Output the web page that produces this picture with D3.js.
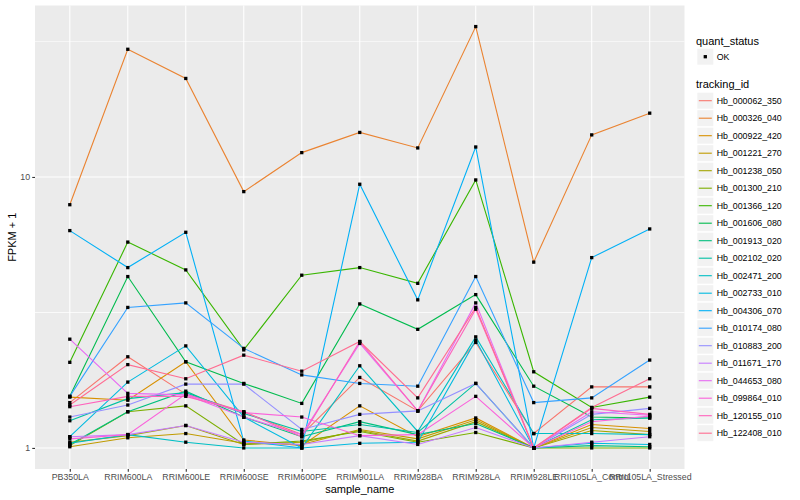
<!DOCTYPE html>
<html>
<head>
<meta charset="utf-8">
<script src="https://cdn.jsdelivr.net/npm/d3@7"></script>
<style>
    body { margin: 0; background: #ffffff; }
    text { font-family: "Liberation Sans", Arial, Helvetica, sans-serif; }
</style>
</head>
<body>
<script>
var sampleNames = ["PB350LA", "RRIM600LA", "RRIM600LE", "RRIM600SE", "RRIM600PE", "RRIM901LA",
                   "RRIM928BA", "RRIM928LA", "RRIM928LE", "RRII105LA_Control", "RRII105LA_Stressed"];

var trackingIds = ["Hb_000062_350", "Hb_000326_040", "Hb_000922_420", "Hb_001221_270", "Hb_001238_050",
                   "Hb_001300_210", "Hb_001366_120", "Hb_001606_080", "Hb_001913_020", "Hb_002102_020",
                   "Hb_002471_200", "Hb_002733_010", "Hb_004306_070", "Hb_010174_080", "Hb_010883_200",
                   "Hb_011671_170", "Hb_044653_080", "Hb_099864_010", "Hb_120155_010", "Hb_122408_010"];

var quantStatus = ["OK"];

var yTickValues = [1, 10];
var yTickLabels = ["1", "10"];

// FPKM + 1, one row per tracking_id, one column per sample
var fpkmPlusOne = [
    [1.47, 2.17, 1.58, 1.36, 1.12, 1.82, 1.37, 2.45, 1.13, 1.68, 1.68],
    [7.90, 29.6, 23.1, 8.83, 12.3, 14.6, 12.8, 35.9, 4.85, 14.3, 17.2],
    [1.54, 1.50, 2.08, 1.07, 1.02, 1.43, 1.10, 1.29, 1.00, 1.22, 1.18],
    [1.01, 1.09, 1.13, 1.04, 1.03, 1.17, 1.08, 1.27, 1.00, 1.19, 1.15],
    [1.05, 1.11, 1.21, 1.03, 1.05, 1.16, 1.06, 1.25, 1.00, 1.16, 1.12],
    [1.02, 1.36, 1.43, 1.03, 1.06, 1.15, 1.05, 1.14, 1.00, 1.00, 1.00],
    [2.07, 5.75, 4.54, 2.30, 4.34, 4.63, 4.05, 9.75, 1.91, 1.41, 1.54],
    [1.55, 4.29, 2.08, 1.73, 1.46, 3.40, 2.74, 3.68, 1.69, 1.30, 1.29],
    [1.03, 1.36, 1.62, 1.30, 1.10, 1.25, 1.12, 1.23, 1.00, 1.02, 1.01],
    [1.26, 1.52, 1.60, 1.34, 1.15, 1.22, 1.14, 1.73, 1.00, 1.27, 1.29],
    [1.04, 1.12, 1.05, 1.00, 1.00, 2.01, 1.15, 2.57, 1.13, 1.13, 1.12],
    [1.10, 1.75, 2.38, 1.30, 1.00, 1.04, 1.05, 2.50, 1.00, 1.04, 1.03],
    [6.34, 4.63, 6.25, 1.06, 1.00, 9.40, 3.52, 12.9, 1.00, 5.04, 6.43],
    [1.55, 3.30, 3.43, 2.33, 1.86, 1.73, 1.69, 4.29, 1.47, 1.53, 2.11],
    [1.30, 1.44, 1.72, 1.72, 1.17, 1.33, 1.37, 1.73, 1.00, 1.33, 1.40],
    [1.10, 1.12, 1.21, 1.05, 1.03, 1.11, 1.03, 1.19, 1.00, 1.05, 1.10],
    [2.52, 1.59, 1.57, 1.30, 1.12, 2.43, 1.37, 3.43, 1.00, 1.36, 1.32],
    [1.08, 1.12, 1.58, 1.35, 1.30, 1.11, 1.12, 1.55, 1.00, 1.25, 1.31],
    [1.42, 1.55, 1.55, 1.36, 1.10, 2.47, 1.37, 3.25, 1.00, 1.40, 1.33],
    [1.44, 2.03, 1.80, 2.20, 1.92, 2.47, 1.53, 3.30, 1.00, 1.41, 1.80]
];

(function(){

    // ggplot default hue palette for 20 levels
    var palette = ["#F8766D", "#EA8331", "#D89000", "#C09B00", "#A3A500", "#7CAE00", "#39B600",
                   "#00BB4E", "#00BF7D", "#00C1A3", "#00BFC4", "#00BAE0", "#00B0F6", "#35A2FF",
                   "#9590FF", "#C77CFF", "#E76BF3", "#FA62DB", "#FF62BC", "#FF6C91"];

    window.onload = setChart;

    function setChart() {

        var width = 800,
            height = 500,
            panelLeft = 35,
            panelRight = 684.5,
            panelTop = 5.5,
            panelBottom = 469;

        var svg = d3.select("body")
            .append("svg")
            .attr("width", width)
            .attr("height", height);

        var xScale = d3.scalePoint()
            .domain(sampleNames)
            .range([panelLeft, panelRight])
            .padding(0.6);

        // log scale with ggplot's 5% expansion in log space
        var allValues = d3.merge(fpkmPlusOne);
        var logMin = Math.log10(d3.min(allValues)),
            logMax = Math.log10(d3.max(allValues)),
            pad = (logMax - logMin) * 0.05;

        var yScale = d3.scaleLog()
            .domain([Math.pow(10, logMin - pad), Math.pow(10, logMax + pad)])
            .range([panelBottom, panelTop]);

        var dom = yScale.domain();
        var minorTicks = [];
        yTickValues.forEach(function(t) {
            [t / Math.sqrt(10), t * Math.sqrt(10)].forEach(function(m) {
                if (m >= dom[0] && m <= dom[1] && minorTicks.indexOf(m) < 0) minorTicks.push(m);
            });
        });

        // panel
        svg.append("rect")
            .attr("x", panelLeft)
            .attr("y", panelTop)
            .attr("width", panelRight - panelLeft)
            .attr("height", panelBottom - panelTop)
            .attr("fill", "#EBEBEB");

        svg.selectAll(".minorGrid")
            .data(minorTicks)
            .enter()
            .append("line")
            .attr("x1", panelLeft)
            .attr("x2", panelRight)
            .attr("y1", function(d) { return yScale(d); })
            .attr("y2", function(d) { return yScale(d); })
            .attr("stroke", "#ffffff")
            .attr("stroke-width", 0.55);

        svg.selectAll(".majorGridY")
            .data(yTickValues)
            .enter()
            .append("line")
            .attr("x1", panelLeft)
            .attr("x2", panelRight)
            .attr("y1", function(d) { return yScale(d); })
            .attr("y2", function(d) { return yScale(d); })
            .attr("stroke", "#ffffff")
            .attr("stroke-width", 1.1);

        svg.selectAll(".majorGridX")
            .data(sampleNames)
            .enter()
            .append("line")
            .attr("x1", function(d) { return xScale(d); })
            .attr("x2", function(d) { return xScale(d); })
            .attr("y1", panelTop)
            .attr("y2", panelBottom)
            .attr("stroke", "#ffffff")
            .attr("stroke-width", 1.1);

        // lines
        var line = d3.line()
            .x(function(d, i) { return xScale(sampleNames[i]); })
            .y(function(d) { return yScale(d); });

        svg.selectAll(".series")
            .data(fpkmPlusOne)
            .enter()
            .append("path")
            .attr("class", "series")
            .attr("d", line)
            .attr("fill", "none")
            .attr("stroke", function(d, i) { return palette[i]; })
            .attr("stroke-width", 1.1);

        // points
        var pointData = [];
        fpkmPlusOne.forEach(function(row) {
            row.forEach(function(v, j) {
                pointData.push({ sample: sampleNames[j], value: v });
            });
        });

        var ps = 3.3;
        svg.selectAll(".pt")
            .data(pointData)
            .enter()
            .append("rect")
            .attr("x", function(d) { return xScale(d.sample) - ps / 2; })
            .attr("y", function(d) { return yScale(d.value) - ps / 2; })
            .attr("width", ps)
            .attr("height", ps)
            .attr("fill", "#000000");

        // axes
        var yAxis = d3.axisLeft(yScale)
            .tickValues(yTickValues)
            .tickFormat(function(d, i) { return yTickLabels[i]; })
            .tickSize(2.75)
            .tickPadding(2.2);

        var yAxisG = svg.append("g")
            .attr("transform", "translate(" + panelLeft + ",0)")
            .call(yAxis);

        var xAxis = d3.axisBottom(xScale)
            .tickSize(2.75)
            .tickPadding(2.2);

        var xAxisG = svg.append("g")
            .attr("transform", "translate(0," + panelBottom + ")")
            .call(xAxis);

        [yAxisG, xAxisG].forEach(function(g) {
            g.select(".domain").remove();
            g.selectAll(".tick line").attr("stroke", "#333333").attr("stroke-width", 1.1);
            g.selectAll(".tick text")
                .attr("fill", "#4D4D4D")
                .style("font-size", "8.8px")
                .style("font-family", "'Liberation Sans', Arial, sans-serif");
        });

        svg.append("text")
            .attr("x", (panelLeft + panelRight) / 2)
            .attr("y", 493)
            .attr("text-anchor", "middle")
            .style("font-size", "11px")
            .attr("fill", "#000000")
            .text("sample_name");

        svg.append("text")
            .attr("transform", "translate(15.5," + (panelTop + panelBottom) / 2 + ") rotate(-90)")
            .attr("text-anchor", "middle")
            .style("font-size", "11px")
            .attr("fill", "#000000")
            .text("FPKM + 1");

        setLegend(svg);
    }

    function setLegend(svg) {

        var legendX = 696,
            keyX = 697.3,
            keySize = 16,
            keyStep = 17.5,
            textX = 716.7;

        svg.append("text")
            .attr("x", legendX)
            .attr("y", 44.5)
            .style("font-size", "11px")
            .text("quant_status");

        var okG = svg.selectAll(".okKey")
            .data(quantStatus)
            .enter()
            .append("g")
            .attr("transform", function(d, i) { return "translate(0," + (56.7 + i * keyStep) + ")"; });

        okG.append("rect")
            .attr("x", keyX)
            .attr("y", -keySize / 2)
            .attr("width", keySize)
            .attr("height", keySize)
            .attr("fill", "#F2F2F2");

        okG.append("rect")
            .attr("x", keyX + keySize / 2 - 1.65)
            .attr("y", -1.65)
            .attr("width", 3.3)
            .attr("height", 3.3)
            .attr("fill", "#000000");

        okG.append("text")
            .attr("x", textX)
            .attr("y", 3.1)
            .style("font-size", "8.8px")
            .text(function(d) { return d; });

        svg.append("text")
            .attr("x", legendX)
            .attr("y", 88.3)
            .style("font-size", "11px")
            .text("tracking_id");

        var keys = svg.selectAll(".idKey")
            .data(trackingIds)
            .enter()
            .append("g")
            .attr("transform", function(d, i) { return "translate(0," + (100.7 + i * keyStep) + ")"; });

        keys.append("rect")
            .attr("x", keyX)
            .attr("y", -keySize / 2)
            .attr("width", keySize)
            .attr("height", keySize)
            .attr("fill", "#F2F2F2");

        keys.append("line")
            .attr("x1", keyX + 1.5)
            .attr("x2", keyX + keySize - 1.5)
            .attr("y1", 0)
            .attr("y2", 0)
            .attr("stroke", function(d, i) { return palette[i]; })
            .attr("stroke-width", 1.1);

        keys.append("text")
            .attr("x", textX)
            .attr("y", 3.1)
            .style("font-size", "8.8px")
            .attr("fill", "#000000")
            .text(function(d) { return d; });
    }

})();
</script>
</body>
</html>
